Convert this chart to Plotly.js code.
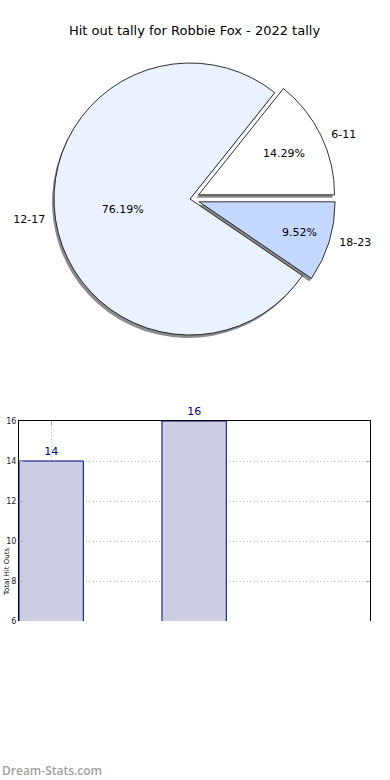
<!DOCTYPE html>
<html>
<head>
<meta charset="utf-8">
<script src="https://cdn.plot.ly/plotly-3.0.1.min.js"></script>
<style>html,body{margin:0;padding:0;background:#fff;}#chart{width:390px;height:780px;}</style>
</head>
<body>
<div id="chart"></div>
<script>
// Pie data
const pieLabels = ["6-11", "12-17", "18-23"];
const pieValues = [3, 16, 2];
const pieColors = ["#ffffff", "#eaf1ff", "#c5d8ff"];
const piePull = [0.07, 0, 0.07];

// Bar data
const barX = [0, 1];
const barValues = [14, 16];
const barTickVals = [0];
const yTitle = 'Total Hit Outs';

const W = 390, H = 780;
const mL = 19, mR = 20;
const pw = W - mL - mR;

// pie geometry (pixels)
const cx = 190, cy = 199, R = 136;
const half = R * 1.07;
function pxDomX(a, b) { return [(a - mL) / pw, (b - mL) / pw]; }
function pxDomY(top, bottom) { return [(H - bottom) / H, (H - top) / H]; }

const pieDomain = { x: pxDomX(cx - half, cx + half), y: pxDomY(cy - half, cy + half) };
const shadowDomain = { x: pxDomX(cx - half - 2, cx + half - 2), y: pxDomY(cy - half + 3, cy + half + 3) };

// first slice starts at 3 o'clock and runs counterclockwise (as matplotlib)
const total = pieValues.reduce((a, b) => a + b, 0);
const startRot = 90 - 360 * pieValues[0] / total;

const common = {
  type: 'pie', labels: pieLabels, values: pieValues, sort: false,
  direction: 'counterclockwise', rotation: startRot, pull: piePull,
  hoverinfo: 'skip', showlegend: false, automargin: false
};

const traces = [
  Object.assign({}, common, {
    domain: shadowDomain,
    marker: { colors: ["#8c8c8c", "#8c8c8c", "#8c8c8c"], line: { width: 0 } },
    textinfo: 'none'
  }),
  Object.assign({}, common, {
    domain: pieDomain,
    marker: { colors: pieColors, line: { color: '#000000', width: 0.8 } },
    texttemplate: '%{percent:.2%}', textposition: 'inside', insidetextorientation: 'horizontal',
    textfont: { family: 'DejaVu Sans', size: 11, color: '#000000' }
  }),
  Object.assign({}, common, {
    domain: pieDomain,
    marker: { colors: ['rgba(0,0,0,0)', 'rgba(0,0,0,0)', 'rgba(0,0,0,0)'], line: { width: 0 } },
    texttemplate: '  %{label}  ', textposition: 'outside',
    outsidetextfont: { family: 'DejaVu Sans', size: 11, color: '#000000' }
  }),
  {
    type: 'bar', x: barX, y: barValues, width: 0.45,
    marker: { color: '#ccccE4', line: { color: '#000080', width: 1 } },
    text: barValues.map(String), textposition: 'outside', cliponaxis: false,
    textfont: { family: 'DejaVu Sans', size: 11, color: '#000080' },
    hoverinfo: 'skip', showlegend: false
  }
];

const yDom = pxDomY(421, 621);

const layout = {
  width: W, height: H,
  margin: { l: mL, r: mR, t: 0, b: 0 },
  paper_bgcolor: '#ffffff', plot_bgcolor: '#ffffff',
  title: { text: 'Hit out tally for Robbie Fox - 2022 tally', x: 0.5, xref: 'paper', y: 1 - 30 / H, yref: 'container',
           yanchor: 'middle', font: { family: 'DejaVu Sans', size: 13, color: '#000000' } },
  xaxis: {
    domain: [0, 1], range: [-0.225, 2.23], side: 'top',
    showline: true, linecolor: '#000000', linewidth: 1, mirror: false,
    tickvals: barTickVals, showticklabels: false, ticks: 'inside', ticklen: 4, tickcolor: '#aaaaaa',
    showgrid: true, gridcolor: '#bdbdbd', griddash: '1px,2.5px', gridwidth: 1, zeroline: false, fixedrange: true
  },
  yaxis: {
    domain: yDom, range: [6, 16], tickvals: [6, 8, 10, 12, 14, 16],
    showline: true, linecolor: '#000000', linewidth: 1, mirror: 'allticks',
    ticks: 'inside', ticklen: 4, tickcolor: '#aaaaaa',
    tickfont: { family: 'DejaVu Sans', size: 8, color: '#222222' },
    showgrid: true, gridcolor: '#bdbdbd', griddash: '1px,2.5px', gridwidth: 1, zeroline: false,
    automargin: false, fixedrange: true
  },
  annotations: [
    { text: yTitle, xref: 'paper', yref: 'paper', x: (1 - mL) / pw, y: (H - 572) / H,
      xanchor: 'left', yanchor: 'middle', textangle: -90, showarrow: false,
      font: { family: 'DejaVu Sans', size: 7, color: '#000000' } },
    { text: 'Dream-Stats.com', xref: 'paper', yref: 'paper', x: -mL / pw, y: (H - 770) / H,
      xanchor: 'left', yanchor: 'middle', showarrow: false,
      font: { family: 'Open Sans', size: 12, color: '#a0a0a0', weight: 600 } }
  ]
};

Plotly.newPlot('chart', traces, layout, { staticPlot: true, displayModeBar: false });
</script>
</body>
</html>
